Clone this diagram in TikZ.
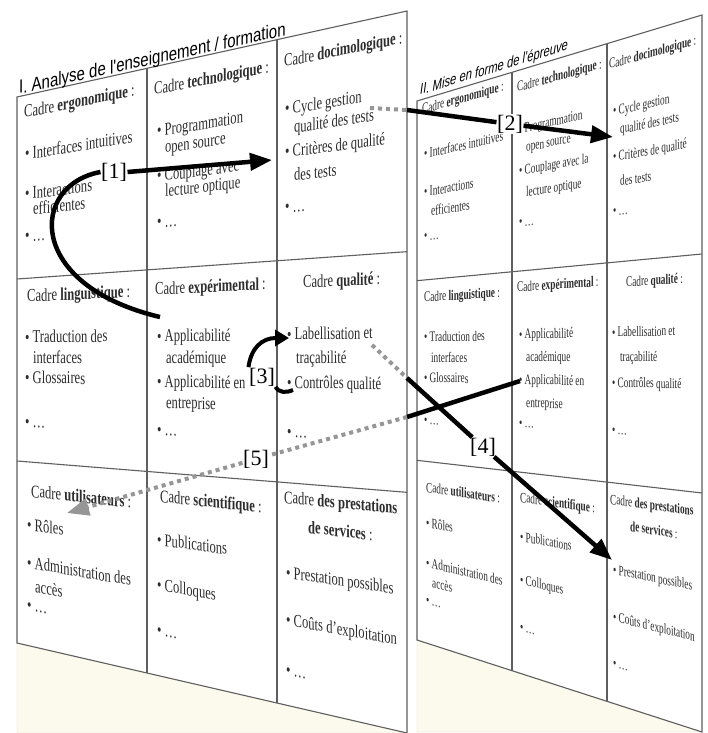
\documentclass[tikz,border=0pt]{standalone}
\usepackage{fontspec}
\setmainfont{Liberation Serif}
\newfontfamily\titlefamily{Liberation Sans}
\usetikzlibrary{calc,arrows.meta}
\definecolor{mycream}{RGB}{252,250,236}
\definecolor{mygrid}{RGB}{95,95,95}
\definecolor{mytext}{RGB}{45,45,45}
\definecolor{mydots}{RGB}{150,150,150}

% slanted text line: style, vanishing x, name, x, y (baseline), text
\newcommand{\cadretxt}[6]{%
    \pgfmathsetmacro{\tiltval}{(360-#5)/(#4-(#2))}%
    \node[yslant=\tiltval, #1] (#3) at (#4,#5) {#6};}
\newcommand{\ltxt}[4]{\cadretxt{txtL}{-1193}{#1}{#2}{#3}{#4}}
\newcommand{\rtxt}[4]{\cadretxt{txtR}{-446}{#1}{#2}{#3}{#4}}

\begin{document}
\begin{tikzpicture}[x=1pt, y=-1pt,
    grille/.style={draw=mygrid, line width=1.1pt},
    txtL/.style={anchor=base west, inner sep=0pt, text=mytext, font=\fontsize{18}{20}\selectfont, xscale=0.7},
    txtR/.style={anchor=base west, inner sep=0pt, text=mytext, font=\fontsize{14.5}{16}\selectfont, xscale=0.64},
    numero/.style={fill=white, inner sep=0.5pt, font=\fontsize{22}{24}\selectfont},
    fleche/.style={line width=4.5pt, black},
    pointille/.style={line width=4pt, mydots, dash pattern=on 4pt off 4pt},
    tete/.style={-{Triangle[length=22pt, width=17pt]}}]

    % Background
    \fill[white] (0,0) rectangle (707,733);
    \useasboundingbox (0,0) rectangle (707,733);

    % Corners of the two grids
    \coordinate (A1) at (17,97);
    \coordinate (A2) at (407,11);
    \coordinate (A3) at (407,733);
    \coordinate (A4) at (17,643);
    \coordinate (B1) at (417,101);
    \coordinate (B2) at (702,15);
    \coordinate (B3) at (702,732);
    \coordinate (B4) at (417,640);

    % Panel feet
    \fill[mycream, draw=gray!25] (A4) -- (A3) -- (A4 |- A3) -- cycle;
    \fill[mycream, draw=gray!25] (B4) -- (B3) -- (B4 |- B3) -- cycle;

    % Grid I
    \draw[grille] (A1) -- (A2) -- (A3) -- (A4) -- cycle;
    \draw[grille] ($(A1)!1/3!(A4)$) -- ($(A2)!1/3!(A3)$);
    \draw[grille] ($(A1)!2/3!(A4)$) -- ($(A2)!2/3!(A3)$);
    \draw[grille] ($(A1)!1/3!(A2)$) -- ($(A4)!1/3!(A3)$);
    \draw[grille] ($(A1)!2/3!(A2)$) -- ($(A4)!2/3!(A3)$);
    % Grid II
    \draw[grille] (B1) -- (B2) -- (B3) -- (B4) -- cycle;
    \draw[grille] ($(B1)!1/3!(B4)$) -- ($(B2)!1/3!(B3)$);
    \draw[grille] ($(B1)!2/3!(B4)$) -- ($(B2)!2/3!(B3)$);
    \draw[grille] ($(B1)!1/3!(B2)$) -- ($(B4)!1/3!(B3)$);
    \draw[grille] ($(B1)!2/3!(B2)$) -- ($(B4)!2/3!(B3)$);

    % Titles
    \cadretxt{anchor=base west, inner sep=0pt, font=\titlefamily\fontsize{19}{21}\selectfont, xscale=0.79}{-1193}{titleI}{19}{94}{I. Analyse de l'enseignement / formation}
    \cadretxt{anchor=base west, inner sep=0pt, font=\titlefamily\itshape\fontsize{15}{17}\selectfont, xscale=0.75}{-446}{titleII}{420}{95}{II. Mise en forme de l'épreuve}

    % Grid I, first row
    \ltxt{lerg}{24}{118}{Cadre \textbf{ergonomique} :}
    \ltxt{lerg1}{25}{160}{•~Interfaces intuitives}
    \ltxt{lerg2}{25}{200}{•~Interactions}
    \ltxt{lerg2b}{33}{215}{efficientes}
    \ltxt{lerg3}{25}{242}{•~…}
    \ltxt{ltec}{154}{95}{Cadre \textbf{technologique} :}
    \ltxt{ltec1}{157}{137}{•~Programmation}
    \ltxt{ltec1b}{165}{153}{open source}
    \ltxt{ltec2}{157}{182}{•~Couplage avec}
    \ltxt{ltec2b}{165}{197}{lecture optique}
    \ltxt{ltec3}{157}{228}{•~…}
    \ltxt{ldoc}{284}{67}{Cadre \textbf{docimologique} :}
    \ltxt{ldoc1}{285}{115}{•~Cycle gestion}
    \ltxt{ldoc1b}{294}{133}{qualité des tests}
    \ltxt{ldoc2}{285}{158}{•~Critères de qualité}
    \ltxt{ldoc2b}{294}{181}{des tests}
    \ltxt{ldoc3}{285}{213}{•~…}
    % Grid I, second row
    \ltxt{lling}{27}{302}{Cadre \textbf{linguistique} :}
    \ltxt{lling1}{25}{343}{•~Traduction des}
    \ltxt{lling1b}{33}{363}{interfaces}
    \ltxt{lling2}{25}{383}{•~Glossaires}
    \ltxt{lling3}{25}{427}{•~…}
    \ltxt{lexp}{155}{295}{Cadre \textbf{expérimental} :}
    \ltxt{lexp1}{157}{342}{•~Applicabilité}
    \ltxt{lexp1b}{166}{363}{académique}
    \ltxt{lexp2}{157}{387}{•~Applicabilité en}
    \ltxt{lexp2b}{166}{408}{entreprise}
    \ltxt{lexp3}{157}{435}{•~…}
    \ltxt{lqua}{303}{288}{Cadre \textbf{qualité} :}
    \ltxt{lqua1}{287}{340}{•~Labellisation et}
    \ltxt{lqua1b}{296}{363}{traçabilité}
    \ltxt{lqua2}{287}{388}{•~Contrôles qualité}
    \ltxt{lqua3}{287}{437}{•~…}
    % Grid I, third row
    \ltxt{luti}{31}{497}{Cadre \textbf{utilisateurs} :}
    \ltxt{luti1}{27}{530}{•~Rôles}
    \ltxt{luti2}{27}{568}{•~Administration des}
    \ltxt{luti2b}{35}{592}{accès}
    \ltxt{luti3}{27}{610}{•~…}
    \ltxt{lsci}{160}{502}{Cadre \textbf{scientifique} :}
    \ltxt{lsci1}{157}{545}{•~Publications}
    \ltxt{lsci2}{157}{590}{•~Colloques}
    \ltxt{lsci3}{157}{635}{•~…}
    \ltxt{lpre}{284}{503}{Cadre \textbf{des prestations}}
    \ltxt{lpreb}{308}{533}{\textbf{de services} :}
    \ltxt{lpre1}{286}{578}{•~Prestation possibles}
    \ltxt{lpre2}{286}{625}{•~Coûts d'exploitation}
    \ltxt{lpre3}{286}{675}{•~…}

    % Grid II, first row
    \rtxt{rerg}{422}{114}{Cadre \textbf{ergonomique} :}
    \rtxt{rerg1}{424}{159}{•~Interfaces intuitives}
    \rtxt{rerg2}{424}{197}{•~Interactions}
    \rtxt{rerg2b}{431}{216}{efficientes}
    \rtxt{rerg3}{424}{241}{•~…}
    \rtxt{rtec}{517}{92}{Cadre \textbf{technologique} :}
    \rtxt{rtec1}{519}{134}{•~Programmation}
    \rtxt{rtec1b}{526}{152}{open source}
    \rtxt{rtec2}{519}{176}{•~Couplage avec la}
    \rtxt{rtec2b}{526}{197}{lecture optique}
    \rtxt{rtec3}{519}{227}{•~…}
    \rtxt{rdoc}{609}{69}{Cadre \textbf{docimologique} :}
    \rtxt{rdoc1}{613}{116}{•~Cycle gestion}
    \rtxt{rdoc1b}{620}{134}{qualité des tests}
    \rtxt{rdoc2}{613}{162}{•~Critères de qualité}
    \rtxt{rdoc2b}{620}{186}{des tests}
    \rtxt{rdoc3}{613}{216}{•~…}
    % Grid II, second row
    \rtxt{rling}{424}{302}{Cadre \textbf{linguistique} :}
    \rtxt{rling1}{424}{342}{•~Traduction des}
    \rtxt{rling1b}{431}{362}{interfaces}
    \rtxt{rling2}{424}{382}{•~Glossaires}
    \rtxt{rling3}{424}{424}{•~…}
    \rtxt{rexp}{517}{292}{Cadre \textbf{expérimental} :}
    \rtxt{rexp1}{519}{339}{•~Applicabilité}
    \rtxt{rexp1b}{526}{361}{académique}
    \rtxt{rexp2}{519}{384}{•~Applicabilité en}
    \rtxt{rexp2b}{526}{407}{entreprise}
    \rtxt{rexp3}{519}{427}{•~…}
    \rtxt{rqua}{626}{287}{Cadre \textbf{qualité} :}
    \rtxt{rqua1}{612}{337}{•~Labellisation et}
    \rtxt{rqua1b}{620}{361}{traçabilité}
    \rtxt{rqua2}{612}{387}{•~Contrôles qualité}
    \rtxt{rqua3}{612}{434}{•~…}
    % Grid II, third row
    \rtxt{ruti}{426}{492}{Cadre \textbf{utilisateurs} :}
    \rtxt{ruti1}{426}{527}{•~Rôles}
    \rtxt{ruti2}{426}{567}{•~Administration des}
    \rtxt{ruti2b}{432}{587}{accès}
    \rtxt{ruti3}{426}{604}{•~…}
    \rtxt{rsci}{520}{502}{Cadre \textbf{scientifique} :}
    \rtxt{rsci1}{520}{541}{•~Publications}
    \rtxt{rsci2}{520}{584}{•~Colloques}
    \rtxt{rsci3}{520}{631}{•~…}
    \rtxt{rpre}{610}{504}{Cadre \textbf{des prestations}}
    \rtxt{rpreb}{630}{531}{\textbf{de services} :}
    \rtxt{rpre1}{613}{574}{•~Prestation possibles}
    \rtxt{rpre2}{613}{621}{•~Coûts d'exploitation}
    \rtxt{rpre3}{613}{667}{•~…}

    % Step numbers
    \node[numero] (L1) at (114,172) {[1]};
    \node[numero] (L2) at (510,124) {[2]};
    \node[numero] (L3) at (262,377) {[3]};
    \node[numero] (L4) at (483,447) {[4]};
    \node[numero] (L5) at (256,459) {[5]};

    % Arrow ends
    \coordinate (a1s) at (160,317);
    \coordinate (a1e) at (272,160);
    \coordinate (a2s) at (370,108);
    \coordinate (a2m) at (407,110);
    \coordinate (a2e) at (613,137);
    \coordinate (a3s) at (293,390);
    \coordinate (a3e) at (289,338);
    \coordinate (a4s) at (372,345);
    \coordinate (a4m) at (407,378);
    \coordinate (a4e) at (612,560);
    \coordinate (a5s) at (520,381);
    \coordinate (a5m) at (407,417);
    \coordinate (a5e) at (67,513);

    % [1]
    \draw[fleche] (a1s) .. controls (25,285) and (30,185) .. (L1.west);
    \draw[fleche, tete] (L1.east) -- (a1e);
    % [2]
    \draw[pointille] (a2s) -- (a2m);
    \draw[fleche] (a2m) -- (L2);
    \draw[fleche, tete] (L2) -- (a2e);
    % [3]
    \draw[fleche, line width=4pt] (L3.south east) .. controls (279,393) and (286,393) .. (a3s);
    \draw[fleche, line width=4pt, -{Triangle[length=14pt, width=16pt]}] (L3.north west) .. controls (251,348) and (262,338) .. (a3e);
    % [4]
    \draw[pointille] (a4s) -- (a4m);
    \draw[fleche] (a4m) -- (L4);
    \draw[fleche, tete] (L4) -- (a4e);
    % [5]
    \draw[fleche] (a5s) -- (a5m);
    \draw[pointille] (a5m) -- (L5);
    \draw[pointille, tete] (L5) -- (a5e);
\end{tikzpicture}
\end{document}
